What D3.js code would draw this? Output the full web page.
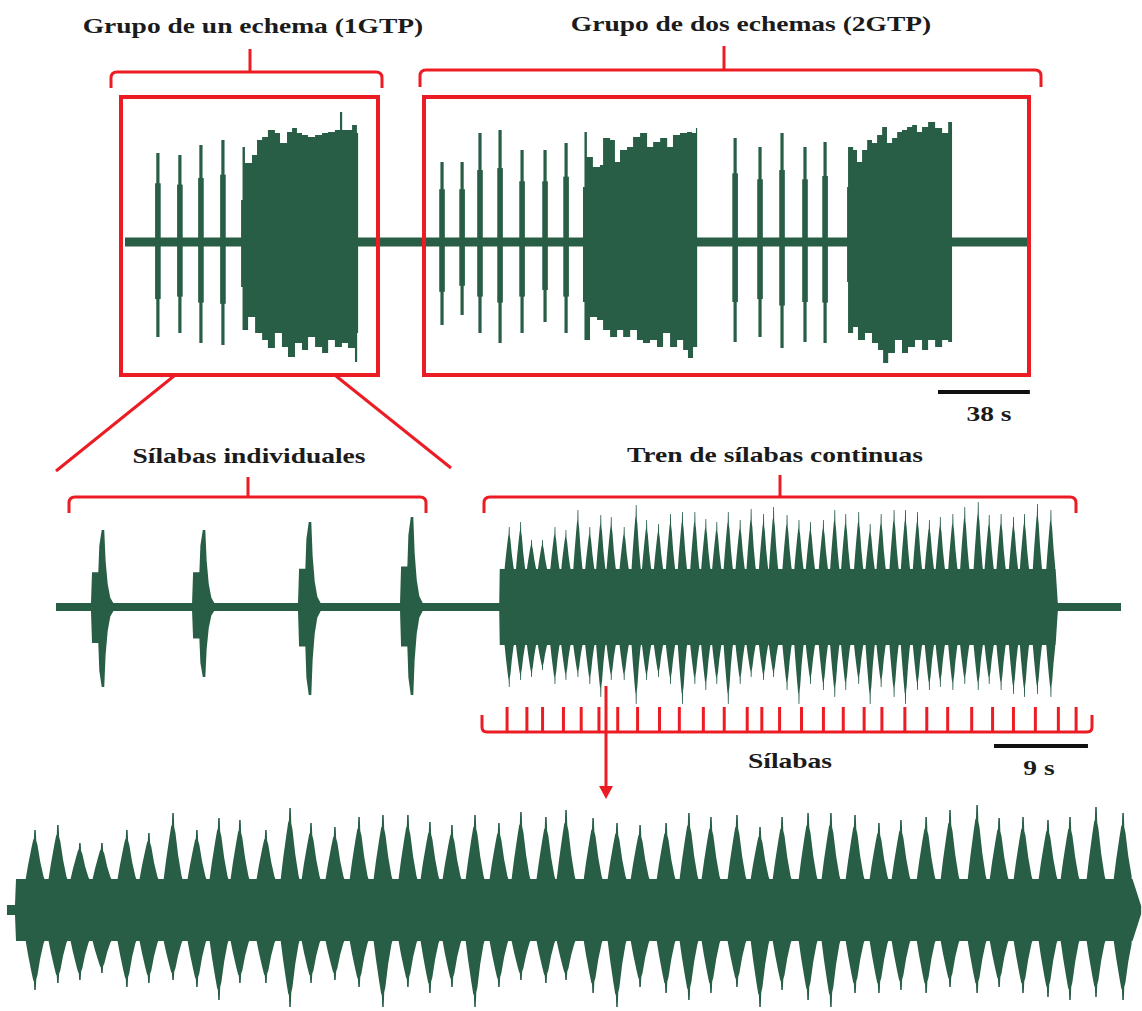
<!DOCTYPE html>
<html>
<head>
<meta charset="utf-8">
<script src="https://cdn.jsdelivr.net/npm/d3@7"></script>
<style>
    body { margin: 0; background: #fff; }
    svg text {
        font-family: "Liberation Serif", "Times New Roman", serif;
        font-weight: bold;
        font-size: 22px;
        fill: #1b1b1b;
    }
</style>
</head>
<body>
<div id="chart"></div>
<script>

// ---------------- data: times in s, amplitude in relative units ----------------

// overview trace (1GTP + 2GTP)
const overviewSeconds = 373;
const spikeTimes = [13.6, 22.7, 31.4, 40.5, 131.1, 139.4, 146.8, 155.1, 164.2, 173.7, 182.4, 252.3, 262.6, 271.7, 281.2, 289.5];
const spikeUp    = [0.89, 0.87, 0.97, 1.02, 0.80, 0.80, 1.09, 1.12, 0.92, 0.92, 0.99, 1.04, 0.95, 1.09, 0.95, 1.00];
const spikeDown  = [0.95, 0.91, 1.01, 1.03, 0.83, 0.73, 0.91, 1.01, 0.91, 0.80, 0.91, 1.00, 0.95, 1.06, 1.00, 1.01];

const burst1Up = [[48.0,0.42],[48.6,0.95],[49.6,0.79],[52.5,0.87],[54.6,1.02],[56.7,1.05],[59.1,1.12],[62.0,1.09],[64.1,0.99],[67.0,1.10],[69.1,1.14],[71.1,1.09],[73.2,1.07],[75.7,1.05],[78.6,1.07],[81.5,1.09],[84.0,1.10],[86.8,1.12],[88.9,1.30],[89.8,1.12],[93.9,1.17],[95.9,1.09],[96.4,1.09]];
const burst1Down = [[48.0,0.45],[48.6,0.88],[50.9,0.75],[53.8,0.91],[56.7,0.98],[59.1,1.06],[62.0,0.91],[64.9,1.05],[67.4,1.15],[70.3,1.01],[73.2,1.08],[75.7,0.95],[78.6,1.05],[81.5,1.11],[84.0,0.98],[86.8,1.05],[89.7,1.01],[92.2,1.06],[95.1,1.20],[96.0,0.91],[96.4,0.91]];
const burst2Up = [[189.4,0.55],[190.0,1.10],[191.0,0.85],[193.5,0.75],[196.4,0.77],[197.7,1.04],[200.6,1.02],[202.6,0.80],[204.7,0.92],[207.6,0.95],[210.1,1.05],[213.0,1.09],[215.9,0.95],[218.4,1.00],[221.3,1.04],[224.2,0.95],[226.6,1.07],[229.5,1.09],[232.4,1.10],[234.5,1.09],[236.1,1.14],[236.6,1.14]];
const burst2Down = [[189.4,0.60],[190.0,0.98],[192.3,0.75],[195.2,0.78],[197.7,0.88],[200.6,0.95],[203.5,0.88],[206.0,0.95],[208.9,0.88],[211.7,0.98],[214.2,1.01],[217.1,0.98],[220.0,1.05],[222.5,0.91],[225.4,1.05],[228.3,0.98],[230.8,1.08],[232.8,1.16],[234.9,1.05],[236.6,1.05]];
const burst3Up = [[298.6,0.55],[299.0,0.95],[301.1,0.92],[302.7,0.80],[304.8,0.92],[306.9,1.02],[308.9,0.99],[311.0,1.07],[313.1,1.15],[315.1,0.99],[317.2,1.04],[319.3,1.10],[321.3,1.12],[323.4,1.15],[325.5,1.17],[327.5,1.10],[329.6,1.15],[332.1,1.20],[335.0,1.14],[337.9,1.09],[340.4,1.20],[342.0,1.20]];
const burst3Down = [[298.6,0.40],[299.0,0.91],[301.1,0.85],[303.1,0.98],[306.0,0.91],[308.9,1.01],[311.4,1.08],[313.5,1.21],[315.6,1.11],[318.4,0.98],[321.3,1.11],[323.8,1.05],[326.7,0.98],[329.6,1.08],[332.1,0.98],[335.0,1.05],[337.9,0.98],[340.4,1.00],[342.0,1.00]];

// middle trace: single syllables + syllable train
const middleSeconds = 102;
const singleSyllableTimes = [4.50, 14.18, 24.33, 34.10];
const singleSyllableUp    = [0.77, 0.77, 0.85, 0.90];
const singleSyllableDown  = [0.80, 0.70, 0.88, 0.88];
const trainOffset = 42.5;
const tickTimes = [43.2, 45.1, 46.6, 48.6, 50.3, 52.0, 53.8, 55.7, 57.8, 59.7, 62.0, 64.0, 66.2, 67.6, 69.3, 71.4, 73.5, 75.4, 77.4, 79.1, 81.3, 83.4, 85.4, 87.7, 89.7, 91.7, 93.8, 96.0, 97.7];

// syllable train (time from train onset) - shared by middle and bottom trace
const trainSeconds = 53.5;
const trainTimes = [0.91,2.00,3.05,4.10,5.29,6.34,7.49,8.63,9.68,10.68,11.92,13.07,14.07,15.21,16.36,17.50,18.69,19.74,20.79,21.89,23.03,24.08,25.27,26.23,27.52,28.66,29.76,31.00,32.09,33.14,34.38,35.48,36.53,37.77,38.86,40.01,41.15,42.20,43.40,44.54,45.83,46.88,48.02,49.21,50.26,51.50,52.79];
const trainUp = [0.80,0.85,0.67,0.67,0.80,0.77,0.97,0.80,0.92,0.90,0.80,1.02,0.87,0.83,0.93,0.95,0.95,0.88,0.85,0.95,0.87,0.98,0.93,1.00,0.92,0.87,0.85,0.87,0.97,0.93,0.95,0.83,0.93,0.97,0.97,0.95,0.87,0.90,0.93,1.00,1.05,0.92,0.93,0.90,0.93,1.03,0.97];
const trainDown = [0.80,0.73,0.70,0.63,0.77,0.73,0.70,0.77,0.90,0.73,0.73,0.97,0.73,0.70,0.77,0.97,0.77,0.83,0.77,0.97,0.77,0.70,0.73,0.70,0.83,0.97,0.77,0.83,0.90,0.83,0.77,0.97,0.80,0.90,0.97,0.83,0.83,0.80,0.83,0.77,0.83,0.77,0.83,0.87,0.90,0.87,0.90];

// envelope shapes: [offset, fraction of peak]
const syllableShape = [[-1.15,0.05],[-1.05,0.45],[-0.45,0.45],[-0.35,0.8],[-0.12,1.0],[0.12,1.0],[0.25,0.6],[0.45,0.3],[0.7,0.12],[1.0,0.05]];
const trainShape = [[-0.40,0],[-0.30,0.28],[-0.16,0.62],[-0.08,0.8],[-0.05,0.82],[-0.035,1],[0.03,1],[0.05,0.78],[0.10,0.7],[0.22,0.35],[0.36,0.05],[0.40,0]];
const trainPeriod = 1.12;

// ---------------- drawing ----------------

const green = "#285e45";
const red = "#ec1c24";

const svg = d3.select("#chart").append("svg")
    .attr("width", 1142)
    .attr("height", 1011);

// scales for the three traces
let xTop = d3.scaleLinear().domain([0, overviewSeconds]).range([125, 1027]);
let yTop = d3.scaleLinear().domain([-1, 1]).range([342, 142]);
let xMid = d3.scaleLinear().domain([0, middleSeconds]).range([56, 1121]);
let yMid = d3.scaleLinear().domain([-1, 1]).range([707, 507]);
let xBot = d3.scaleLinear().domain([0, trainSeconds]).range([16, 1138]);
let yBot = d3.scaleLinear().domain([-1, 1]).range([1010, 810]);

let wave = svg.append("g").attr("fill", green);

// ---- overview trace
wave.append("rect")
    .attr("x", xTop(0)).attr("width", xTop(overviewSeconds) - xTop(0))
    .attr("y", yTop(0.045)).attr("height", yTop(-0.045) - yTop(0.045));

let spikes = spikeTimes.map((t, i) => ({t: t, up: spikeUp[i], down: spikeDown[i]}));
wave.selectAll(".spike-thin").data(spikes).enter().append("rect")
    .attr("class", "spike-thin")
    .attr("x", d => xTop(d.t) - 1.6).attr("width", 3.2)
    .attr("y", d => yTop(d.up)).attr("height", d => yTop(-d.down) - yTop(d.up));
wave.selectAll(".spike-core").data(spikes).enter().append("rect")
    .attr("class", "spike-core")
    .attr("x", d => xTop(d.t) - 2.8).attr("width", 5.6)
    .attr("y", d => yTop(d.up * 0.66)).attr("height", d => yTop(-d.down * 0.6) - yTop(d.up * 0.66));

let upArea = d3.area().x(d => xTop(d[0])).y0(yTop(0)).y1(d => yTop(d[1])).curve(d3.curveStepAfter);
let downArea = d3.area().x(d => xTop(d[0])).y0(yTop(0)).y1(d => yTop(-d[1])).curve(d3.curveStepAfter);
[burst1Up, burst2Up, burst3Up].forEach(b => wave.append("path").attr("d", upArea(b)));
[burst1Down, burst2Down, burst3Down].forEach(b => wave.append("path").attr("d", downArea(b)));

// ---- middle trace
wave.append("rect")
    .attr("x", xMid(0)).attr("width", xMid(middleSeconds) - xMid(0))
    .attr("y", yMid(0.04)).attr("height", yMid(-0.04) - yMid(0.04));

let midArea = d3.area().x(d => xMid(d[0])).y0(d => yMid(-d[2])).y1(d => yMid(d[1]));
singleSyllableTimes.forEach((t, i) => {
    let pts = syllableShape.map(s => [t + s[0], singleSyllableUp[i] * s[1], singleSyllableDown[i] * s[1]]);
    wave.append("path").attr("d", midArea(pts));
});

function trainEnvelope(floor, offset, tEnd) {
    let pts = [[offset - 0.05, 0.04, 0.04], [offset, floor, floor]];
    trainTimes.forEach((t, i) => {
        trainShape.forEach(s => {
            pts.push([offset + t + s[0] * trainPeriod,
                floor + (trainUp[i] - floor) * s[1],
                floor + (trainDown[i] - floor) * s[1]]);
        });
    });
    pts.push([offset + trainSeconds - 0.3, floor, floor]);
    pts.push([offset + tEnd, 0.04, 0.04]);
    pts.sort((a, b) => a[0] - b[0]);
    return pts;
}
wave.append("path").attr("d", midArea(trainEnvelope(0.38, trainOffset, trainSeconds - 0.05)));

// ---- bottom trace (expanded syllable train)
let botArea = d3.area().x(d => xBot(d[0])).y0(d => yBot(-d[2])).y1(d => yBot(d[1]));
wave.append("rect")
    .attr("x", xBot(-0.43)).attr("width", xBot(0) - xBot(-0.43))
    .attr("y", yBot(0.05)).attr("height", yBot(-0.05) - yBot(0.05));
wave.append("path").attr("d", botArea(trainEnvelope(0.31, 0, trainSeconds + 0.15)));

// ---------------- annotations ----------------
let ann = svg.append("g")
    .attr("fill", "none")
    .attr("stroke", red)
    .attr("stroke-width", 3);

// boxes
ann.append("rect").attr("x", 121).attr("y", 97).attr("width", 257).attr("height", 278).attr("stroke-width", 4);
ann.append("rect").attr("x", 424).attr("y", 97).attr("width", 605).attr("height", 278).attr("stroke-width", 4);

function topBracket(x0, x1, y, yEnd, xs, ys) {
    let r = 6;
    ann.append("path").attr("d",
        `M${x0},${yEnd} L${x0},${y + r} Q${x0},${y} ${x0 + r},${y} L${x1 - r},${y} Q${x1},${y} ${x1},${y + r} L${x1},${yEnd}`);
    ann.append("line").attr("x1", xs).attr("x2", xs).attr("y1", ys).attr("y2", y);
}
topBracket(111, 382, 72, 88, 250, 49);
topBracket(420, 1041, 70, 87, 724, 46);
topBracket(69, 426, 497, 513, 248, 477);
topBracket(484, 1076, 497, 513, 780, 475);

// zoom lines from the 1GTP box
ann.append("line").attr("x1", 174).attr("y1", 376).attr("x2", 56).attr("y2", 471);
ann.append("line").attr("x1", 336).attr("y1", 376).attr("x2", 451).attr("y2", 468);

// syllable tick bracket
ann.append("path").attr("d", "M482,715 L482,727 Q482,732 487,732 L1087,732 Q1092,732 1092,727 L1092,715");
ann.selectAll(".tick").data(tickTimes).enter().append("line")
    .attr("x1", d => xMid(d)).attr("x2", d => xMid(d))
    .attr("y1", 732).attr("y2", 707);

// arrow to the expanded trace
ann.append("line").attr("x1", 606).attr("x2", 606).attr("y1", 686).attr("y2", 788);
svg.append("path").attr("d", "M599,786 L613,786 L606,799 Z").attr("fill", red);

// scale bars
svg.append("line")
    .attr("x1", 938).attr("x2", 938 + xTop(38) - xTop(0))
    .attr("y1", 392).attr("y2", 392)
    .attr("stroke", "#111").attr("stroke-width", 4);
svg.append("line")
    .attr("x1", 994).attr("x2", 994 + xMid(9) - xMid(0))
    .attr("y1", 746).attr("y2", 746)
    .attr("stroke", "#111").attr("stroke-width", 4);

// labels
const labels = [
    {text: "Grupo de un echema (1GTP)", x: 253, y: 33},
    {text: "Grupo de dos echemas (2GTP)", x: 751, y: 31},
    {text: "38 s", x: 989, y: 421},
    {text: "Sílabas individuales", x: 249, y: 463},
    {text: "Tren de sílabas continuas", x: 775, y: 462},
    {text: "Sílabas", x: 790, y: 768},
    {text: "9 s", x: 1039, y: 775}
];
svg.selectAll(".label").data(labels).enter().append("text")
    .attr("class", "label")
    .attr("text-anchor", "middle")
    .attr("transform", d => `translate(${d.x},${d.y}) scale(1.25,1)`)
    .text(d => d.text);

</script>
</body>
</html>
